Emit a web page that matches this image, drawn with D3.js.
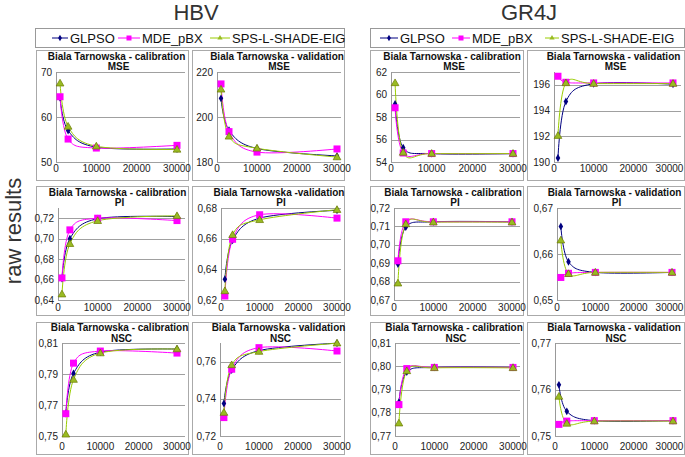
<!DOCTYPE html>
<html><head><meta charset="utf-8">
<script src="https://cdn.jsdelivr.net/npm/d3@7"></script>
<style>body{margin:0;background:#fff;} svg{display:block;font-family:"Liberation Sans",Arial,sans-serif;}</style>
</head><body><svg width="685" height="457"></svg>
<script>
// ---------------- DATA ----------------
const evaluations = [1000, 3000, 10000, 30000];
const xTicks = [0, 10000, 20000, 30000];
const seriesNames = ["GLPSO", "MDE_pBX", "SPS-L-SHADE-EIG"];
const modelNames = ["HBV", "GR4J"];
const metricNames = ["MSE", "PI", "NSC"];
const sideLabel = "raw results";
const titleCal = "Biala Tarnowska - calibration";
const titleVal = "Biala Tarnowska - validation";
const titleValPI = "Biala Tarnowska -validation";

// each array: [GLPSO, MDE_pBX, SPS-L-SHADE-EIG] values at the evaluations
const hbvCalMSE = [[64.3, 57.0, 53.3, 52.9], [64.5, 55.1, 53.1, 53.7], [67.5, 57.9, 53.5, 52.8]];
const hbvValMSE = [[208.3, 194.1, 186.0, 182.7], [214.7, 193.5, 184.4, 185.8], [212.3, 191.4, 186.1, 182.2]];
const gr4jCalMSE = [[59.15, 55.27, 54.74, 54.74], [58.82, 54.80, 54.75, 54.75], [61.03, 54.85, 54.75, 54.75]];
const gr4jValMSE = [[190.31, 194.7, 196.08, 196.05], [196.67, 196.2, 196.15, 196.15], [192.05, 196.15, 196.1, 196.1]];

const hbvCalPI = [[0.661, 0.700, 0.7195, 0.7216], [0.6616, 0.7086, 0.7200, 0.7177], [0.6457, 0.6950, 0.7175, 0.7223]];
const hbvValPI = [[0.6336, 0.6590, 0.6734, 0.6785], [0.6226, 0.6596, 0.6756, 0.6734], [0.6259, 0.6625, 0.6723, 0.6789]];
const gr4jCalPI = [[0.6895, 0.7096, 0.7125, 0.7125], [0.6913, 0.7125, 0.7125, 0.7125], [0.6791, 0.7113, 0.7123, 0.7123]];
const gr4jValPI = [[0.6660, 0.6583, 0.6560, 0.6560], [0.6549, 0.6558, 0.6560, 0.6560], [0.6630, 0.6557, 0.6560, 0.6560]];

const hbvCalNSC = [[0.7645, 0.7904, 0.8041, 0.8061], [0.7644, 0.7970, 0.8048, 0.8035], [0.7511, 0.7864, 0.8035, 0.8061]];
const hbvValNSC = [[0.7375, 0.7555, 0.7659, 0.7699], [0.7299, 0.7559, 0.7675, 0.7657], [0.7326, 0.7582, 0.7654, 0.7699]];
const gr4jCalNSC = [[0.7845, 0.7975, 0.7995, 0.7995], [0.7835, 0.7990, 0.7995, 0.7995], [0.7755, 0.7980, 0.7993, 0.7993]];
const gr4jValNSC = [[0.7610, 0.7553, 0.7533, 0.7533], [0.7525, 0.7532, 0.7533, 0.7533], [0.7585, 0.7527, 0.7532, 0.7532]];

// y axis extents and tick labels per panel
const yDomainsMSE = [[50, 70], [180, 220], [54, 62], [190, 197]];
const yTicksMSE = [[50, 60, 70], [180, 200, 220], [54, 56, 58, 60, 62], [190, 192, 194, 196]];
const yDomainsPI = [[0.64, 0.73], [0.62, 0.68], [0.67, 0.72], [0.65, 0.67]];
const yTicksPI = [[0.64, 0.66, 0.68, 0.70, 0.72], [0.62, 0.64, 0.66, 0.68], [0.67, 0.68, 0.69, 0.70, 0.71, 0.72], [0.65, 0.66, 0.67]];
const yDomainsNSC = [[0.75, 0.81], [0.72, 0.77], [0.77, 0.81], [0.75, 0.77]];
const yTicksNSC = [[0.75, 0.77, 0.79, 0.81], [0.72, 0.74, 0.76], [0.77, 0.78, 0.79, 0.80, 0.81], [0.75, 0.76, 0.77]];

// ---------------- LAYOUT / STYLE ----------------
const colors = ["#000080", "#ff00ff", "#99cc00"];
const colBox = [[36, 188], [192, 344], [370, 523], [527, 684]];
const rowBox = [[50, 180], [186, 315], [322, 454]];
const plotY = [[72, 162], [208, 300], [343, 436]];
const plotX = [
  [[56, 177], [217, 337], [391, 513], [554, 673]],
  [[58, 177], [221, 337], [394, 512], [557, 672]],
  [[62, 177], [220, 337], [395, 513], [555, 673]]
];
const titleBase = [[59.5, 70], [195.5, 206], [330.5, 341.5]];
const xLabelBase = [172, 311, 450];

const panelValues = [
  [hbvCalMSE, hbvValMSE, gr4jCalMSE, gr4jValMSE],
  [hbvCalPI, hbvValPI, gr4jCalPI, gr4jValPI],
  [hbvCalNSC, hbvValNSC, gr4jCalNSC, gr4jValNSC]
];
const panelDomains = [yDomainsMSE, yDomainsPI, yDomainsNSC];
const panelTicks = [yTicksMSE, yTicksPI, yTicksNSC];
const panelTitles = [
  [titleCal, titleVal, titleCal, titleVal],
  [titleCal, titleValPI, titleCal, titleVal],
  [titleCal, titleVal, titleCal, titleVal]
];

const svg = d3.select("svg");
svg.append("rect").attr("width", 685).attr("height", 457).attr("fill", "#fff");

// titles
svg.append("text").attr("x", 196).attr("y", 20).attr("text-anchor", "middle")
  .attr("font-size", 22).attr("fill", "#333").text(modelNames[0]);
svg.append("text").attr("x", 529).attr("y", 20).attr("text-anchor", "middle")
  .attr("font-size", 22).attr("fill", "#333").text(modelNames[1]);
svg.append("text").attr("transform", "translate(21,231) rotate(-90)").attr("text-anchor", "middle")
  .attr("font-size", 22).attr("fill", "#333").text(sideLabel);

function marker(g, i, x, y) {
  if (i === 0) {
    g.append("path").attr("d", d3.symbol(d3.symbolDiamond, 18)())
      .attr("transform", `translate(${x},${y})`).attr("fill", colors[0]);
  } else if (i === 1) {
    g.append("rect").attr("x", x - 3.5).attr("y", y - 3.5).attr("width", 7).attr("height", 7)
      .attr("fill", colors[1]);
  } else {
    g.append("path").attr("d", d3.symbol(d3.symbolTriangle, 26)())
      .attr("transform", `translate(${x},${y + 0.5})`).attr("fill", "#99bb22").attr("stroke", "#6b7a00").attr("stroke-width", 0.7);
  }
}

// legends
const legendBoxes = [[35, 344], [370, 684]];
const legendItemX = [[52, 118, 210], [380, 452, 545]];
const legendLineW = [[16, 22, 20], [18, 18, 14]];
legendBoxes.forEach((b, k) => {
  const g = svg.append("g");
  g.append("rect").attr("x", b[0] + 0.5).attr("y", 28.5).attr("width", b[1] - b[0]).attr("height", 19)
    .attr("fill", "#fff").attr("stroke", "#999");
  seriesNames.forEach((name, i) => {
    const x0 = legendItemX[k][i], w = legendLineW[k][i], y = 38;
    g.append("line").attr("x1", x0).attr("x2", x0 + w).attr("y1", y).attr("y2", y)
      .attr("stroke", colors[i]).attr("stroke-width", 1);
    const mg = g.append("g");
    if (i === 1) mg.append("rect").attr("x", x0 + w / 2 - 2.5).attr("y", y - 2.5).attr("width", 5).attr("height", 5).attr("fill", colors[1]);
    else if (i === 0) mg.append("path").attr("d", d3.symbol(d3.symbolDiamond, 12)()).attr("transform", `translate(${x0 + w / 2},${y})`).attr("fill", colors[0]);
    else mg.append("path").attr("d", d3.symbol(d3.symbolTriangle, 12)()).attr("transform", `translate(${x0 + w / 2},${y})`).attr("fill", "#99bb22");
    g.append("text").attr("x", x0 + w + 2).attr("y", y + 4.6).attr("font-size", 13).attr("fill", "#111").text(name);
  });
});

const fmt = (v, ticks) => {
  const isInt = ticks.every(t => Number.isInteger(t));
  return isInt ? String(v) : d3.format(".2f")(v).replace(".", ",");
};

for (let r = 0; r < 3; r++) {
  for (let c = 0; c < 4; c++) {
    const g = svg.append("g");
    const bx = colBox[c], by = rowBox[r];
    g.append("rect").attr("x", bx[0] + 0.5).attr("y", by[0] + 0.5).attr("width", bx[1] - bx[0]).attr("height", by[1] - by[0])
      .attr("fill", "#fff").attr("stroke", "#aaa");
    const px = plotX[r][c], py = plotY[r];
    const x = d3.scaleLinear().domain([0, 30000]).range(px);
    const y = d3.scaleLinear().domain(panelDomains[r][c]).range([py[1], py[0]]);
    const ticks = panelTicks[r][c];
    // title
    const tc = (px[0] + px[1]) / 2;
    g.append("text").attr("x", tc).attr("y", titleBase[r][0]).attr("text-anchor", "middle")
      .attr("font-size", 10).attr("font-weight", "bold").attr("fill", "#111").text(panelTitles[r][c]);
    g.append("text").attr("x", tc + 2).attr("y", titleBase[r][1]).attr("text-anchor", "middle")
      .attr("font-size", 10).attr("font-weight", "bold").attr("fill", "#111").text(metricNames[r]);
    // gridlines
    const gridRight = bx[1] - 3;
    g.selectAll(null).data(ticks).enter().append("line")
      .attr("x1", px[0]).attr("x2", gridRight)
      .attr("y1", d => Math.round(y(d)) + 0.5).attr("y2", d => Math.round(y(d)) + 0.5)
      .attr("stroke", "#a0a0a0").attr("stroke-width", 1);
    // y axis line
    g.append("line").attr("x1", Math.round(px[0]) + 0.5).attr("x2", Math.round(px[0]) + 0.5)
      .attr("y1", py[0]).attr("y2", py[1]).attr("stroke", "#999");
    // y tick labels
    g.selectAll(null).data(ticks).enter().append("text")
      .attr("x", px[0] - 4).attr("y", d => y(d) + 3.6).attr("text-anchor", "end")
      .attr("font-size", 10).attr("fill", "#222").text(d => fmt(d, ticks));
    // x tick labels (keep last label inside the window on the right-most column)
    g.selectAll(null).data(xTicks).enter().append("text")
      .attr("x", d => c === 3 ? Math.min(x(d), 684 - 14.5) : x(d)).attr("y", xLabelBase[r]).attr("text-anchor", "middle")
      .attr("font-size", 10).attr("fill", "#222").text(d => d);
    // series
    const vals = panelValues[r][c];
    const line = d3.line().x((d, i) => x(evaluations[i])).y(d => y(d)).curve(d3.curveCardinal.tension(0));
    vals.forEach((s, i) => {
      g.append("path").attr("d", line(s)).attr("fill", "none").attr("stroke", colors[i]).attr("stroke-width", 1);
    });
    vals.forEach((s, i) => {
      s.forEach((v, j) => marker(g, i, x(evaluations[j]), y(v)));
    });
  }
}
</script></body></html>
